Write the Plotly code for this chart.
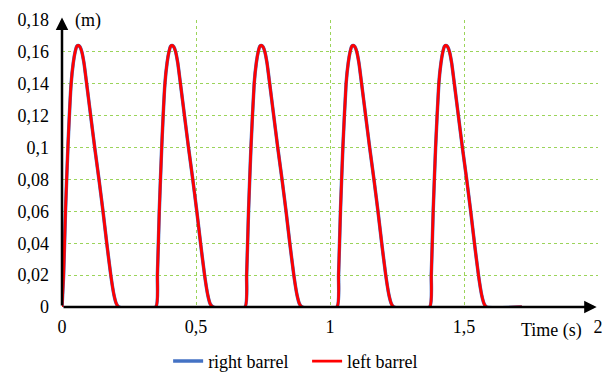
import plotly.graph_objects as go

# Time (s) and displacement (m)
time_s = [
    0.000, 0.006, 0.013, 0.022, 0.034, 0.042, 0.049, 0.055, 0.061, 0.067, 0.074, 0.082, 0.092, 0.107, 0.122, 0.138, 0.153, 0.167, 0.182, 0.194, 0.203, 0.212,
    0.350, 0.356, 0.363, 0.372, 0.384, 0.392, 0.399, 0.405, 0.411, 0.417, 0.424, 0.432, 0.442, 0.457, 0.472, 0.488, 0.503, 0.517, 0.532, 0.544, 0.553, 0.564,
    0.683, 0.689, 0.696, 0.705, 0.717, 0.725, 0.732, 0.738, 0.744, 0.750, 0.757, 0.765, 0.775, 0.790, 0.805, 0.821, 0.836, 0.850, 0.865, 0.877, 0.886, 0.896,
    1.026, 1.032, 1.039, 1.048, 1.060, 1.068, 1.075, 1.081, 1.087, 1.093, 1.100, 1.108, 1.118, 1.133, 1.148, 1.164, 1.179, 1.193, 1.208, 1.220, 1.229, 1.238,
    1.372, 1.378, 1.385, 1.394, 1.406, 1.414, 1.421, 1.427, 1.433, 1.439, 1.446, 1.454, 1.464, 1.479, 1.494, 1.510, 1.525, 1.539, 1.554, 1.566, 1.575, 1.584,
    1.716,
]
pulse_m = [0, 0.02, 0.06, 0.10, 0.14, 0.153, 0.160, 0.1635, 0.164, 0.1632, 0.160, 0.153, 0.14, 0.12, 0.10, 0.08, 0.06, 0.04, 0.02, 0.0075, 0.002, 0]
right_barrel = pulse_m * 5 + [0]
left_barrel = pulse_m * 5 + [0]

x_ticks = [0, 0.5, 1, 1.5, 2]
x_tick_text = ["0", "0,5", "1", "1,5", "2"]
y_ticks = [0, 0.02, 0.04, 0.06, 0.08, 0.10, 0.12, 0.14, 0.16, 0.18]

FONT = "Liberation Serif"
GRID = "#9BD45A"

fig = go.Figure()
fig.add_trace(go.Scatter(x=time_s, y=right_barrel, mode="lines", name="right barrel\u00a0\u00a0\u00a0",
                         line=dict(color="#4472C4", width=3.5, shape="spline", smoothing=0.5)))
fig.add_trace(go.Scatter(x=time_s, y=left_barrel, mode="lines", name="left barrel",
                         line=dict(color="#FF0000", width=2.8, shape="spline", smoothing=0.5)))

fig.update_layout(
    width=605, height=372,
    margin=dict(l=62, r=7, t=20, b=65, autoexpand=False),
    plot_bgcolor="white", paper_bgcolor="white",
    separators=",.",
    font=dict(family=FONT, size=18, color="black"),
    showlegend=True,
    legend=dict(orientation="h", x=0.198, xanchor="left", y=-0.125, yanchor="top",
                font=dict(family=FONT, size=18), itemwidth=30, tracegroupgap=0,
                bgcolor="rgba(0,0,0,0)"),
    xaxis=dict(range=[0, 2], tickvals=x_ticks, ticktext=x_tick_text,
               showgrid=True, gridcolor=GRID, griddash="dot", gridwidth=1,
               zeroline=False, showline=False, ticks="", ticklabelstandoff=7),
    yaxis=dict(range=[0, 0.18], tickvals=y_ticks, tickformat=".2~f",
               showgrid=True, gridcolor=GRID, griddash="dot", gridwidth=1,
               zeroline=False, showline=False, ticks="", ticklabelstandoff=12),
)

# axis arrows
fig.add_annotation(x=0, y=0.1815, ax=0, ay=0, xref="x", yref="y", axref="x", ayref="y",
                   showarrow=True, arrowhead=2, arrowsize=1, arrowwidth=2.5, arrowcolor="black", text="")
fig.add_annotation(x=1.995, y=0, ax=0, ay=0, xref="x", yref="y", axref="x", ayref="y",
                   showarrow=True, arrowhead=2, arrowsize=1, arrowwidth=2.5, arrowcolor="black", text="")

fig.add_annotation(x=0.04, y=0.1795, xref="x", yref="y", text="(m)", showarrow=False,
                   xanchor="left", yanchor="middle", font=dict(family=FONT, size=18))
fig.add_annotation(x=1.705, y=0, xref="x", yref="y", text="Time (s)", showarrow=False,
                   xanchor="left", yanchor="top", yshift=-11, font=dict(family=FONT, size=18))

fig.write_html("out.html")
